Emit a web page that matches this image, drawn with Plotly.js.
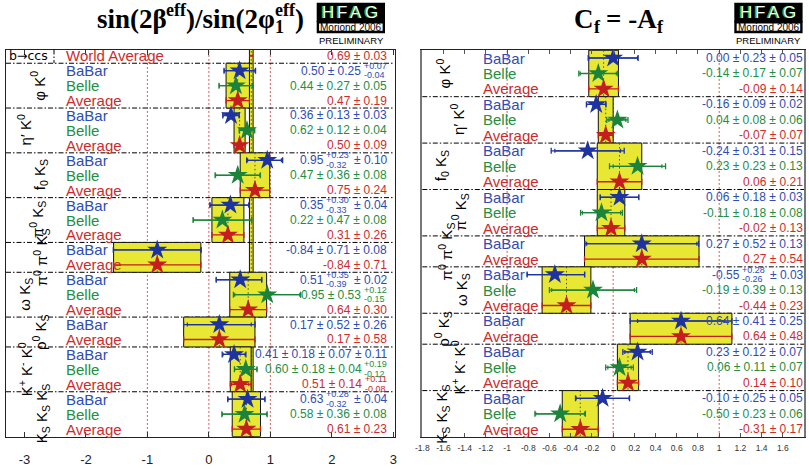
<!DOCTYPE html>
<html><head><meta charset="utf-8">
<script src="https://cdn.plot.ly/plotly-3.0.1.min.js"></script>
<style>html,body{margin:0;padding:0;background:#fff;}#chart{width:809px;height:469px;}</style>
</head><body><div id="chart"></div>
<script>
// ---------------- DATA ----------------
// Left panel: sin(2beta_eff)
const sModes = ["b→ccs","φ K<sup>0</sup>","η′ K<sup>0</sup>","f<sub>0</sub> K<sub>S</sub>","π<sup>0</sup> K<sub>S</sub>","π<sup>0</sup> π<sup>0</sup> K<sub>S</sub>","ω K<sub>S</sub>","ρ<sup>0</sup> K<sub>S</sub>","K<sup>+</sup> K<sup>-</sup> K<sup>0</sup>","K<sub>S</sub> K<sub>S</sub> K<sub>S</sub>"];
const sModeSize = [1,3,3,3,3,2,3,2,3,3];
const sExp = ["World Average","BaBar","Belle","Average","BaBar","Belle","Average","BaBar","Belle","Average","BaBar","Belle","Average","BaBar","Average","BaBar","Belle","Average","BaBar","Average","BaBar","Belle","Average","BaBar","Belle","Average"];
const sVal   = [0.69,0.50,0.44,0.47,0.36,0.62,0.50,0.95,0.47,0.75,0.35,0.22,0.31,-0.84,-0.84,0.51,0.95,0.64,0.17,0.17,0.41,0.60,0.51,0.63,0.58,0.61];
const sStatP = [0.03,0.25,0.27,0.19,0.13,0.12,0.09,0.23,0.36,0.24,0.30,0.47,0.26,0.71,0.71,0.35,0.53,0.30,0.52,0.58,0.18,0.18,0.14,0.28,0.36,0.23];
const sStatM = [0.03,0.25,0.27,0.19,0.13,0.12,0.09,0.32,0.36,0.24,0.33,0.47,0.26,0.71,0.71,0.39,0.53,0.30,0.52,0.58,0.18,0.18,0.14,0.32,0.36,0.23];
const sSysP  = [null,0.07,0.05,null,0.03,0.04,null,0.10,0.08,null,0.04,0.08,null,0.08,null,0.02,0.12,null,0.26,null,0.07,0.04,0.11,0.04,0.08,null];
const sSysM  = [null,0.04,0.05,null,0.03,0.04,null,0.10,0.08,null,0.04,0.08,null,0.08,null,0.02,0.15,null,0.26,null,0.07,0.04,0.08,0.04,0.08,null];
const sExtP  = [null,null,null,null,null,null,null,null,null,null,null,null,null,null,null,null,null,null,null,null,0.11,0.19,null,null,null,null];
const sExtM  = [null,null,null,null,null,null,null,null,null,null,null,null,null,null,null,null,null,null,null,null,0.11,0.12,null,null,null,null];
const sTickVals = [-3,-2,-1,0,1,2,3];
const sTickText = ["-3","-2","-1","0","1","2","3"];
const sRefLines = [-1,0,1];

// Right panel: C_f = -A_f
const cModes = ["φ K<sup>0</sup>","η′ K<sup>0</sup>","f<sub>0</sub> K<sub>S</sub>","π<sup>0</sup> K<sub>S</sub>","π<sup>0</sup> π<sup>0</sup> K<sub>S</sub>","ω K<sub>S</sub>","ρ<sup>0</sup> K<sub>S</sub>","K<sup>+</sup> K<sup>-</sup> K<sup>0</sup>","K<sub>S</sub> K<sub>S</sub> K<sub>S</sub>"];
const cModeSize = [3,3,3,3,2,3,2,3,3];
const cExp = ["BaBar","Belle","Average","BaBar","Belle","Average","BaBar","Belle","Average","BaBar","Belle","Average","BaBar","Average","BaBar","Belle","Average","BaBar","Average","BaBar","Belle","Average","BaBar","Belle","Average"];
const cVal   = [0.00,-0.14,-0.09,-0.16,0.04,-0.07,-0.24,0.23,0.06,0.06,-0.11,-0.02,0.27,0.27,-0.55,-0.19,-0.44,0.64,0.64,0.23,0.06,0.14,-0.10,-0.50,-0.31];
const cStatP = [0.23,0.17,0.14,0.09,0.08,0.07,0.31,0.23,0.21,0.18,0.18,0.13,0.52,0.54,0.28,0.39,0.23,0.41,0.48,0.12,0.11,0.10,0.25,0.23,0.17];
const cStatM = [0.23,0.17,0.14,0.09,0.08,0.07,0.31,0.23,0.21,0.18,0.18,0.13,0.52,0.54,0.26,0.39,0.23,0.41,0.48,0.12,0.11,0.10,0.25,0.23,0.17];
const cSysP  = [0.05,0.07,null,0.02,0.06,null,0.15,0.13,null,0.03,0.08,null,0.13,null,0.03,0.13,null,0.25,null,0.07,0.07,null,0.05,0.06,null];
const cSysM  = [0.05,0.07,null,0.02,0.06,null,0.15,0.13,null,0.03,0.08,null,0.13,null,0.03,0.13,null,0.25,null,0.07,0.07,null,0.05,0.06,null];
const cTickVals = [-1.8,-1.6,-1.4,-1.2,-1,-0.8,-0.6,-0.4,-0.2,0,0.2,0.4,0.6,0.8,1,1.2,1.4,1.6,1.8];
const cTickText = ["-1.8","-1.6","-1.4","-1.2","-1","-0.8","-0.6","-0.4","-0.2","0","0.2","0.4","0.6","0.8","1","1.2","1.4","1.6","1.8"];
const cRefLines = [-1,0,1];

// ---------------- STYLE / LAYOUT CONSTANTS ----------------
const W = 809, H = 469;
const FAM = "Liberation Sans, Arial, sans-serif";
const SERIF = "Liberation Serif, Times New Roman, serif";
const YEL = "rgb(232,232,52)";
const TXT = {"BaBar":"rgb(48,76,178)","Belle":"rgb(36,142,66)","Average":"rgb(204,44,44)","World Average":"rgb(204,44,44)"};
const MK  = {"BaBar":"rgb(30,50,160)","Belle":"rgb(28,132,58)","Average":"rgb(196,30,30)","World Average":"rgb(204,30,30)"};
const TOP = 49.5, BOT = 436.7;
const SEPDASH = "5px,2px,1.5px,2px";
const DOTDASH = "1.5px,2.5px";

const cv = document.createElement('canvas').getContext('2d');
function mw(t, size, bold, fam){ cv.font = (bold?'bold ':'') + size + 'px ' + fam; return cv.measureText(t).width; }
function quad(a,b){ return Math.sqrt(a*a + (b||0)*(b||0)); }
function f2(x){ return (x<0?'-':'') + Math.abs(x).toFixed(2); }

const traces = [], shapes = [], anns = [];

function partsWidth(parts, base, stackSize, bold, fam){
  let w = 0;
  parts.forEach(p=>{
    if (p.gap !== undefined) w += p.gap;
    else if (p.stack) w += Math.max(mw(p.stack[0], p.size||stackSize, bold, fam), mw(p.stack[1], p.size||stackSize, bold, fam));
    else w += mw(p.t, p.size||base, bold, fam);
  });
  return w;
}
function emitParts(parts, x0, yref, y, color, o){
  let x = x0;
  const wrap = t => o.bold ? '<b>'+t+'</b>' : t;
  const mk = (t, size, ys) => anns.push({text:wrap(t), xref:'paper', x:x/W, xanchor:'left', yref:yref, y:y, yanchor:'middle',
      yshift:ys, showarrow:false, borderpad:0, font:{family:o.fam, size:size, color:color}});
  parts.forEach(p=>{
    if (p.gap !== undefined) { x += p.gap; return; }
    if (p.stack) {
      const s = p.size||o.stackSize;
      mk(p.stack[0], s, o.up); mk(p.stack[1], s, o.down);
      x += Math.max(mw(p.stack[0], s, o.bold, o.fam), mw(p.stack[1], s, o.bold, o.fam));
      return;
    }
    const s = p.size||o.base;
    mk(p.t, s, p.ys||0);
    x += mw(p.t, s, o.bold, o.fam);
  });
}
function valueParts(v, errs){
  const parts = [{t:f2(v)}];
  errs.forEach(([p,m])=>{
    if (p == null) return;
    if (p === m) {
      const last = parts[parts.length-1];
      if (last.t !== undefined) last.t += ' ± ' + f2(p);
      else { parts.push({gap:4.5}); parts.push({t:'± ' + f2(p)}); }
    } else {
      parts.push({gap:3}); parts.push({stack:['+'+f2(p), '-'+f2(m)]});
    }
  });
  return parts;
}

function buildPanel(c){
  const n = c.val.length;
  const idxAll = [...Array(n).keys()];
  const tP = idxAll.map(i=>quad(c.statP[i], c.sysP[i]));
  const tM = idxAll.map(i=>quad(c.statM[i], c.sysM[i]));
  const groups = []; let r = 0;
  c.sizes.forEach(s=>{ groups.push([r, r+s-1]); r += s; });

  // yellow average boxes
  const centers = [];
  groups.forEach(([a,b])=>{
    for (let i=a;i<=b;i++) if (c.exp[i]==='Average') {
      shapes.push({type:'rect', layer:'below', xref:c.xa, yref:c.ya, x0:c.val[i]-tM[i], x1:c.val[i]+tP[i], y0:a-0.5, y1:b+0.5,
        fillcolor:YEL, line:{color:'#111', width:1}});
      centers.push({x:c.val[i], yref:c.ya, y0:a-0.5, y1:b+0.5});
    }
  });
  // world-average band spanning the full height
  idxAll.filter(i=>c.exp[i]==='World Average').forEach(i=>{
    shapes.push({type:'rect', layer:'below', xref:c.xa, yref:c.ya+' domain', x0:c.val[i]-tM[i], x1:c.val[i]+tP[i], y0:0, y1:1,
      fillcolor:YEL, line:{color:'#111', width:1}});
    centers.push({x:c.val[i], yref:c.ya+' domain', y0:0, y1:1});
  });
  centers.forEach(q=>shapes.push({type:'line', layer:'below', xref:c.xa, yref:q.yref, x0:q.x, x1:q.x, y0:q.y0, y1:q.y1,
      line:{color:'rgb(80,80,40)', width:1, dash:DOTDASH}}));
  // red dotted reference lines
  c.refLines.forEach(v=>shapes.push({type:'line', layer:'below', xref:c.xa, yref:c.ya+' domain', x0:v, x1:v, y0:0, y1:1,
      line:{color:'rgb(214,40,40)', width:1, dash:DOTDASH}}));
  // group separators
  groups.slice(1).forEach(([a])=>shapes.push({type:'line', layer:'below', xref:c.xa+' domain', yref:c.ya, x0:0, x1:1, y0:a-0.5, y1:a-0.5,
      line:{color:'#000', width:1, dash:SEPDASH}}));

  // stat-only error ticks
  ['BaBar','Belle','Average'].forEach(e=>{
    const idx = idxAll.filter(i=>c.exp[i]===e && c.sysP[i]!=null);
    if (!idx.length) return;
    traces.push({type:'scatter', mode:'markers', xaxis:c.xa, yaxis:c.ya, x:idx.map(i=>c.val[i]), y:idx,
      marker:{size:2, opacity:0}, hoverinfo:'skip',
      error_x:{type:'data', symmetric:false, array:idx.map(i=>c.statP[i]), arrayminus:idx.map(i=>c.statM[i]), color:MK[e], thickness:1.2, width:2}});
  });
  // world average short bar
  const wa = idxAll.filter(i=>c.exp[i]==='World Average');
  if (wa.length) traces.push({type:'scatter', mode:'markers', xaxis:c.xa, yaxis:c.ya, x:wa.map(i=>c.val[i]), y:wa,
      marker:{size:2, opacity:0}, hoverinfo:'skip',
      error_x:{type:'data', symmetric:false, array:wa.map(i=>tP[i]), arrayminus:wa.map(i=>tM[i]), color:MK['World Average'], thickness:2, width:0}});
  // measurements with stars
  ['BaBar','Belle','Average'].forEach(e=>{
    const idx = idxAll.filter(i=>c.exp[i]===e);
    traces.push({type:'scatter', mode:'markers', xaxis:c.xa, yaxis:c.ya, x:idx.map(i=>c.val[i]), y:idx,
      marker:{symbol:'star', size:15, color:MK[e], line:{width:0}}, hoverinfo:'skip',
      error_x:{type:'data', symmetric:false, array:idx.map(i=>tP[i]), arrayminus:idx.map(i=>tM[i]), color:MK[e], thickness:1.3, width:3}});
  });

  // row labels & values
  idxAll.forEach(i=>{
    anns.push({text:c.exp[i], xref:'paper', x:c.labelPx/W, xanchor:'left', yref:c.ya, y:i, yanchor:'middle', showarrow:false, borderpad:0,
      font:{family:FAM, size:15, color:TXT[c.exp[i]]}});
    const parts = valueParts(c.val[i], [[c.statP[i],c.statM[i]],[c.sysP[i],c.sysM[i]],[c.extP?c.extP[i]:null, c.extM?c.extM[i]:null]]);
    const o = {base:12, stackSize:9, bold:false, fam:FAM, up:5, down:-4.5};
    const w = partsWidth(parts, 12, 9, false, FAM);
    emitParts(parts, c.valRightPx - w, c.ya, i, TXT[c.exp[i]], o);
  });
  // mode labels
  groups.forEach(([a,b],g)=>{
    if (c.modePx[g] == null) {
      anns.push({text:c.modes[g], xref:'paper', x:8/W, xanchor:'left', yref:c.ya, y:a, yanchor:'middle', showarrow:false, borderpad:0,
        font:{family:"DejaVu Sans, Liberation Sans, sans-serif", size:12.5, color:'#000'}});
      shapes.push({type:'line', xref:'paper', yref:c.ya, x0:54/W, x1:54/W, y0:c.yr[1], y1:a+0.5, line:{color:'#000', width:1, dash:SEPDASH}});
      return;
    }
    anns.push({text:c.modes[g], xref:'paper', x:c.modePx[g]/W, xanchor:'center', yref:c.ya, y:(a+b)/2, yanchor:'middle', textangle:-90,
      showarrow:false, borderpad:0, font:{family:FAM, size:15, color:'#000'}});
  });
}

buildPanel({modes:sModes, sizes:sModeSize, exp:sExp, val:sVal, statP:sStatP, statM:sStatM, sysP:sSysP, sysM:sSysM, extP:sExtP, extM:sExtM,
  xa:'x', ya:'y', labelPx:65, valRightPx:386, modePx:[null,38,24,40,37,41,26,40,25,42], refLines:sRefLines, yr:[25.51,-0.42]});
buildPanel({modes:cModes, sizes:cModeSize, exp:cExp, val:cVal, statP:cStatP, statM:cStatM, sysP:cSysP, sysM:cSysM,
  xa:'x2', ya:'y2', labelPx:481.5, valRightPx:802, modePx:[443,458,441,460,446,462,443,458,443], refLines:cRefLines, yr:[24.48,-0.55]});

// titles
function title(parts, cx, cy, o){
  const w = partsWidth(parts, o.base, o.stackSize, true, SERIF);
  emitParts(parts, cx - w/2, 'paper', 1 - cy/H, '#000', o);
}
title([{t:'sin(2β'},{t:'eff', size:18, ys:9},{t:')/sin(2φ'},{stack:['eff','1'], size:18},{t:')'}], 199.5, 19,
  {base:27, stackSize:18, bold:true, fam:SERIF, up:9, down:-8});
title([{t:'C'},{t:'f', size:18, ys:-8},{gap:6},{t:'= -A'},{t:'f', size:18, ys:-8}], 617.5, 19,
  {base:27, stackSize:18, bold:true, fam:SERIF, up:9, down:-8});

// HFAG logos
function logo(x0){
  // black upper block with letters
  shapes.push({type:'rect', xref:'paper', yref:'paper', x0:x0/W, x1:(x0+68.3)/W, y0:1-22.3/H, y1:1-2.7/H,
    fillcolor:'rgb(0,0,0)', line:{width:0}});
  // white lower block framed in black
  shapes.push({type:'rect', xref:'paper', yref:'paper', x0:(x0+1.2)/W, x1:(x0+67.1)/W, y0:1-32/H, y1:1-22.3/H,
    fillcolor:'rgb(255,255,255)', line:{color:'rgb(0,0,0)', width:2.4}});
  const letters = ['H','F','A','G'], offs = [4.3, 19.3, 32.6, 47.6];
  letters.forEach((l,k)=>{
    anns.push({text:l, xref:'paper', x:(x0+offs[k])/W, xanchor:'left', yref:'paper', y:1-12.5/H, yanchor:'middle', showarrow:false, borderpad:0,
      font:{family:FAM, size:17, color:'rgb(240,255,240)', shadow:'-1.5px 0px 0px rgb(40,170,60)'}});
  });
  anns.push({text:'Moriond 2006', xref:'paper', x:(x0+34.2)/W, xanchor:'center', yref:'paper', y:1-27/H, yanchor:'middle', showarrow:false, borderpad:0,
    font:{family:FAM, size:10, color:'rgb(0,0,0)'}});
  anns.push({text:'PRELIMINARY', xref:'paper', x:(x0+34.5)/W, xanchor:'center', yref:'paper', y:1-40.5/H, yanchor:'middle', showarrow:false, borderpad:0,
    font:{family:FAM, size:9.5, color:'rgb(0,0,0)'}});
}
logo(316.7); logo(734.3);

const yDom = [1-BOT/H, 1-TOP/H];
const layout = {
  width:W, height:H, margin:{l:0,r:0,t:0,b:0}, paper_bgcolor:'#fff', plot_bgcolor:'#fff',
  showlegend:false, hovermode:false,
  xaxis:{domain:[6/W, 394.5/W], range:[-3.3,3.02], anchor:'y', tickvals:sTickVals, ticktext:sTickText, ticks:'inside', ticklen:5,
    tickcolor:'#333', showline:true, linecolor:'#222', linewidth:1, mirror:'ticks', showgrid:false, zeroline:false,
    tickfont:{family:FAM, size:13, color:'#222'}, ticklabelstandoff:11},
  yaxis:{domain:yDom, range:[25.51,-0.42], anchor:'x', showticklabels:false, ticks:'', showline:true, linecolor:'#222', linewidth:1,
    mirror:true, showgrid:false, zeroline:false},
  xaxis2:{domain:[422.3/W, 804/W], range:[-1.8,1.8], anchor:'y2', tickvals:cTickVals, ticktext:cTickText, ticks:'inside', ticklen:4,
    tickcolor:'#555', showline:true, linecolor:'#222', linewidth:1, mirror:'ticks', showgrid:false, zeroline:false,
    tickfont:{family:FAM, size:8.5, color:'#333'}, ticklabelstandoff:3},
  yaxis2:{domain:yDom, range:[24.48,-0.55], anchor:'x2', showticklabels:false, ticks:'', showline:true, linecolor:'#777', linewidth:2,
    mirror:true, showgrid:false, zeroline:false},
  shapes:shapes, annotations:anns
};
Plotly.newPlot('chart', traces, layout, {staticPlot:true, displayModeBar:false});
</script>
</body></html>
